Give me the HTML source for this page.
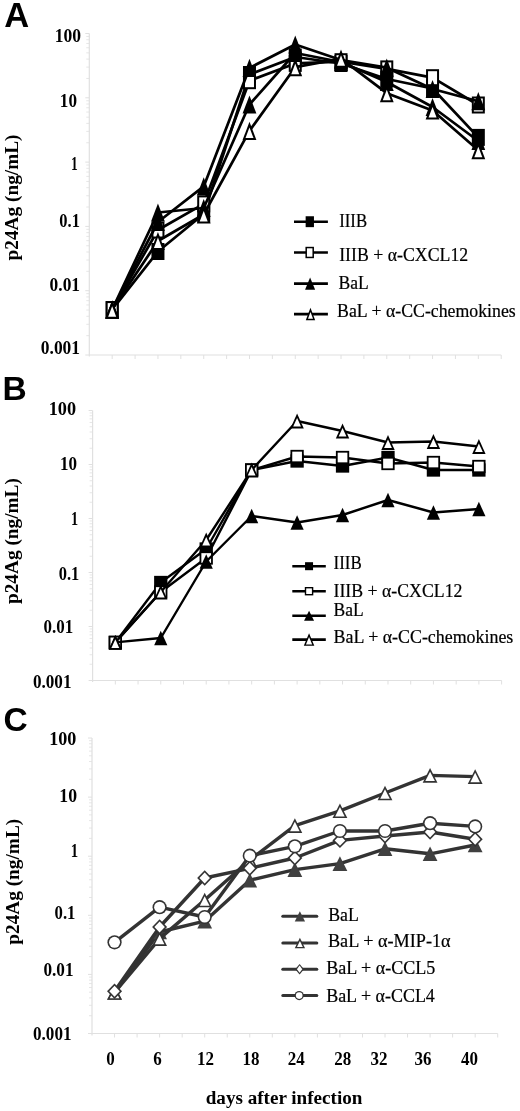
<!DOCTYPE html>
<html><head><meta charset="utf-8"><style>
html,body{margin:0;padding:0;background:#fff;}
body{width:520px;height:1111px;overflow:hidden;}
svg{display:block;filter:blur(0.35px);}
</style></head><body>
<svg width="520" height="1111" viewBox="0 0 520 1111">
<rect width="520" height="1111" fill="#fff"/>
<text transform="translate(4.14,27.10)" font-family='"Liberation Sans", sans-serif' font-size="34.5" font-weight="bold" fill="#000">A</text>
<line x1="89.3" y1="33.5" x2="89.3" y2="356.5" stroke="#e0e0e0" stroke-width="1.2"/>
<line x1="89.3" y1="355" x2="501.2" y2="355" stroke="#e0e0e0" stroke-width="1.2"/>
<line x1="85.3" y1="355.00" x2="89.3" y2="355.00" stroke="#e0e0e0" stroke-width="1"/>
<line x1="86.3" y1="335.64" x2="89.3" y2="335.64" stroke="#e0e0e0" stroke-width="0.8"/>
<line x1="86.3" y1="324.32" x2="89.3" y2="324.32" stroke="#e0e0e0" stroke-width="0.8"/>
<line x1="86.3" y1="316.29" x2="89.3" y2="316.29" stroke="#e0e0e0" stroke-width="0.8"/>
<line x1="86.3" y1="310.06" x2="89.3" y2="310.06" stroke="#e0e0e0" stroke-width="0.8"/>
<line x1="86.3" y1="304.96" x2="89.3" y2="304.96" stroke="#e0e0e0" stroke-width="0.8"/>
<line x1="86.3" y1="300.66" x2="89.3" y2="300.66" stroke="#e0e0e0" stroke-width="0.8"/>
<line x1="86.3" y1="296.93" x2="89.3" y2="296.93" stroke="#e0e0e0" stroke-width="0.8"/>
<line x1="86.3" y1="293.64" x2="89.3" y2="293.64" stroke="#e0e0e0" stroke-width="0.8"/>
<line x1="85.3" y1="290.70" x2="89.3" y2="290.70" stroke="#e0e0e0" stroke-width="1"/>
<line x1="86.3" y1="271.34" x2="89.3" y2="271.34" stroke="#e0e0e0" stroke-width="0.8"/>
<line x1="86.3" y1="260.02" x2="89.3" y2="260.02" stroke="#e0e0e0" stroke-width="0.8"/>
<line x1="86.3" y1="251.99" x2="89.3" y2="251.99" stroke="#e0e0e0" stroke-width="0.8"/>
<line x1="86.3" y1="245.76" x2="89.3" y2="245.76" stroke="#e0e0e0" stroke-width="0.8"/>
<line x1="86.3" y1="240.66" x2="89.3" y2="240.66" stroke="#e0e0e0" stroke-width="0.8"/>
<line x1="86.3" y1="236.36" x2="89.3" y2="236.36" stroke="#e0e0e0" stroke-width="0.8"/>
<line x1="86.3" y1="232.63" x2="89.3" y2="232.63" stroke="#e0e0e0" stroke-width="0.8"/>
<line x1="86.3" y1="229.34" x2="89.3" y2="229.34" stroke="#e0e0e0" stroke-width="0.8"/>
<line x1="85.3" y1="226.40" x2="89.3" y2="226.40" stroke="#e0e0e0" stroke-width="1"/>
<line x1="86.3" y1="207.04" x2="89.3" y2="207.04" stroke="#e0e0e0" stroke-width="0.8"/>
<line x1="86.3" y1="195.72" x2="89.3" y2="195.72" stroke="#e0e0e0" stroke-width="0.8"/>
<line x1="86.3" y1="187.69" x2="89.3" y2="187.69" stroke="#e0e0e0" stroke-width="0.8"/>
<line x1="86.3" y1="181.46" x2="89.3" y2="181.46" stroke="#e0e0e0" stroke-width="0.8"/>
<line x1="86.3" y1="176.36" x2="89.3" y2="176.36" stroke="#e0e0e0" stroke-width="0.8"/>
<line x1="86.3" y1="172.06" x2="89.3" y2="172.06" stroke="#e0e0e0" stroke-width="0.8"/>
<line x1="86.3" y1="168.33" x2="89.3" y2="168.33" stroke="#e0e0e0" stroke-width="0.8"/>
<line x1="86.3" y1="165.04" x2="89.3" y2="165.04" stroke="#e0e0e0" stroke-width="0.8"/>
<line x1="85.3" y1="162.10" x2="89.3" y2="162.10" stroke="#e0e0e0" stroke-width="1"/>
<line x1="86.3" y1="142.74" x2="89.3" y2="142.74" stroke="#e0e0e0" stroke-width="0.8"/>
<line x1="86.3" y1="131.42" x2="89.3" y2="131.42" stroke="#e0e0e0" stroke-width="0.8"/>
<line x1="86.3" y1="123.39" x2="89.3" y2="123.39" stroke="#e0e0e0" stroke-width="0.8"/>
<line x1="86.3" y1="117.16" x2="89.3" y2="117.16" stroke="#e0e0e0" stroke-width="0.8"/>
<line x1="86.3" y1="112.06" x2="89.3" y2="112.06" stroke="#e0e0e0" stroke-width="0.8"/>
<line x1="86.3" y1="107.76" x2="89.3" y2="107.76" stroke="#e0e0e0" stroke-width="0.8"/>
<line x1="86.3" y1="104.03" x2="89.3" y2="104.03" stroke="#e0e0e0" stroke-width="0.8"/>
<line x1="86.3" y1="100.74" x2="89.3" y2="100.74" stroke="#e0e0e0" stroke-width="0.8"/>
<line x1="85.3" y1="97.80" x2="89.3" y2="97.80" stroke="#e0e0e0" stroke-width="1"/>
<line x1="86.3" y1="78.44" x2="89.3" y2="78.44" stroke="#e0e0e0" stroke-width="0.8"/>
<line x1="86.3" y1="67.12" x2="89.3" y2="67.12" stroke="#e0e0e0" stroke-width="0.8"/>
<line x1="86.3" y1="59.09" x2="89.3" y2="59.09" stroke="#e0e0e0" stroke-width="0.8"/>
<line x1="86.3" y1="52.86" x2="89.3" y2="52.86" stroke="#e0e0e0" stroke-width="0.8"/>
<line x1="86.3" y1="47.76" x2="89.3" y2="47.76" stroke="#e0e0e0" stroke-width="0.8"/>
<line x1="86.3" y1="43.46" x2="89.3" y2="43.46" stroke="#e0e0e0" stroke-width="0.8"/>
<line x1="86.3" y1="39.73" x2="89.3" y2="39.73" stroke="#e0e0e0" stroke-width="0.8"/>
<line x1="86.3" y1="36.44" x2="89.3" y2="36.44" stroke="#e0e0e0" stroke-width="0.8"/>
<line x1="85.3" y1="33.5" x2="89.3" y2="33.5" stroke="#e0e0e0" stroke-width="1"/>
<line x1="112.18" y1="355" x2="112.18" y2="359" stroke="#e0e0e0" stroke-width="1"/>
<line x1="135.07" y1="355" x2="135.07" y2="359" stroke="#e0e0e0" stroke-width="1"/>
<line x1="157.95" y1="355" x2="157.95" y2="359" stroke="#e0e0e0" stroke-width="1"/>
<line x1="180.83" y1="355" x2="180.83" y2="359" stroke="#e0e0e0" stroke-width="1"/>
<line x1="203.72" y1="355" x2="203.72" y2="359" stroke="#e0e0e0" stroke-width="1"/>
<line x1="226.60" y1="355" x2="226.60" y2="359" stroke="#e0e0e0" stroke-width="1"/>
<line x1="249.48" y1="355" x2="249.48" y2="359" stroke="#e0e0e0" stroke-width="1"/>
<line x1="272.37" y1="355" x2="272.37" y2="359" stroke="#e0e0e0" stroke-width="1"/>
<line x1="295.25" y1="355" x2="295.25" y2="359" stroke="#e0e0e0" stroke-width="1"/>
<line x1="318.13" y1="355" x2="318.13" y2="359" stroke="#e0e0e0" stroke-width="1"/>
<line x1="341.02" y1="355" x2="341.02" y2="359" stroke="#e0e0e0" stroke-width="1"/>
<line x1="363.90" y1="355" x2="363.90" y2="359" stroke="#e0e0e0" stroke-width="1"/>
<line x1="386.78" y1="355" x2="386.78" y2="359" stroke="#e0e0e0" stroke-width="1"/>
<line x1="409.67" y1="355" x2="409.67" y2="359" stroke="#e0e0e0" stroke-width="1"/>
<line x1="432.55" y1="355" x2="432.55" y2="359" stroke="#e0e0e0" stroke-width="1"/>
<line x1="455.43" y1="355" x2="455.43" y2="359" stroke="#e0e0e0" stroke-width="1"/>
<line x1="478.32" y1="355" x2="478.32" y2="359" stroke="#e0e0e0" stroke-width="1"/>
<line x1="501.20" y1="355" x2="501.20" y2="359" stroke="#e0e0e0" stroke-width="1"/>
<text transform="translate(54.80,42.40) scale(0.9964,1.0700)" font-family='"Liberation Serif", serif' font-size="17.6" font-weight="bold" fill="#000">100</text>
<text transform="translate(59.83,106.60) scale(0.9749,1.0700)" font-family='"Liberation Serif", serif' font-size="17.6" font-weight="bold" fill="#000">10</text>
<text transform="translate(71.12,170.10) scale(0.7678,1.0700)" font-family='"Liberation Serif", serif' font-size="17.6" font-weight="bold" fill="#000">1</text>
<text transform="translate(59.34,227.10) scale(0.9355,1.0700)" font-family='"Liberation Serif", serif' font-size="17.6" font-weight="bold" fill="#000">0.1</text>
<text transform="translate(49.60,291.30) scale(0.9892,1.0700)" font-family='"Liberation Serif", serif' font-size="17.6" font-weight="bold" fill="#000">0.01</text>
<text transform="translate(40.80,353.70) scale(0.9917,1.0700)" font-family='"Liberation Serif", serif' font-size="17.6" font-weight="bold" fill="#000">0.001</text>
<text transform="translate(17.90,260.39) rotate(-90)" font-family='"Liberation Serif", serif' font-size="19.3" font-weight="bold">p24Ag (ng/mL)</text>
<polyline points="112.18,309.60 157.95,251.50 203.72,214.00 249.48,74.50 295.25,57.00 341.02,63.50 386.78,79.00 432.55,88.50 478.32,137.40" fill="none" stroke="#000" stroke-width="2.7" stroke-linejoin="round"/>
<rect x="105.68" y="301.10" width="13" height="17" fill="#000"/>
<rect x="151.45" y="243.00" width="13" height="17" fill="#000"/>
<rect x="197.22" y="205.50" width="13" height="17" fill="#000"/>
<rect x="242.98" y="66.00" width="13" height="17" fill="#000"/>
<rect x="288.75" y="48.50" width="13" height="17" fill="#000"/>
<rect x="334.52" y="55.00" width="13" height="17" fill="#000"/>
<rect x="380.28" y="70.50" width="13" height="17" fill="#000"/>
<rect x="426.05" y="80.00" width="13" height="17" fill="#000"/>
<rect x="471.82" y="128.90" width="13" height="17" fill="#000"/>
<polyline points="112.18,309.60 157.95,230.00 203.72,203.90 249.48,80.70 295.25,63.40 341.02,61.70 386.78,68.90 432.55,77.70 478.32,105.00" fill="none" stroke="#000" stroke-width="2.7" stroke-linejoin="round"/>
<rect x="105.68" y="301.10" width="13" height="17" fill="#000"/>
<rect x="107.68" y="303.10" width="9.00" height="13.00" fill="#fff"/>
<rect x="151.45" y="221.50" width="13" height="17" fill="#000"/>
<rect x="153.45" y="223.50" width="9.00" height="13.00" fill="#fff"/>
<rect x="197.22" y="195.40" width="13" height="17" fill="#000"/>
<rect x="199.22" y="197.40" width="9.00" height="13.00" fill="#fff"/>
<rect x="242.98" y="72.20" width="13" height="17" fill="#000"/>
<rect x="244.98" y="74.20" width="9.00" height="13.00" fill="#fff"/>
<rect x="288.75" y="54.90" width="13" height="17" fill="#000"/>
<rect x="290.75" y="56.90" width="9.00" height="13.00" fill="#fff"/>
<rect x="334.52" y="53.20" width="13" height="17" fill="#000"/>
<rect x="336.52" y="55.20" width="9.00" height="13.00" fill="#fff"/>
<rect x="380.28" y="60.40" width="13" height="17" fill="#000"/>
<rect x="382.28" y="62.40" width="9.00" height="13.00" fill="#fff"/>
<rect x="426.05" y="69.20" width="13" height="17" fill="#000"/>
<rect x="428.05" y="71.20" width="9.00" height="13.00" fill="#fff"/>
<rect x="471.82" y="96.50" width="13" height="17" fill="#000"/>
<rect x="473.82" y="98.50" width="9.00" height="13.00" fill="#fff"/>
<polyline points="112.18,309.60 157.95,212.50 203.72,208.00 249.48,104.50 295.25,53.00 341.02,62.00 386.78,82.00 432.55,107.00 478.32,141.00" fill="none" stroke="#000" stroke-width="2.7" stroke-linejoin="round"/>
<polygon points="112.18,300.50 119.08,318.70 105.28,318.70" fill="#000"/>
<polygon points="157.95,203.40 164.85,221.60 151.05,221.60" fill="#000"/>
<polygon points="203.72,198.90 210.62,217.10 196.82,217.10" fill="#000"/>
<polygon points="249.48,95.40 256.38,113.60 242.58,113.60" fill="#000"/>
<polygon points="295.25,43.90 302.15,62.10 288.35,62.10" fill="#000"/>
<polygon points="341.02,52.90 347.92,71.10 334.12,71.10" fill="#000"/>
<polygon points="386.78,72.90 393.68,91.10 379.88,91.10" fill="#000"/>
<polygon points="432.55,97.90 439.45,116.10 425.65,116.10" fill="#000"/>
<polygon points="478.32,131.90 485.22,150.10 471.42,150.10" fill="#000"/>
<polyline points="112.18,309.60 157.95,222.00 203.72,186.40 249.48,67.90 295.25,44.50 341.02,60.00 386.78,67.70 432.55,89.00 478.32,101.20" fill="none" stroke="#000" stroke-width="2.7" stroke-linejoin="round"/>
<polygon points="112.18,300.50 119.08,318.70 105.28,318.70" fill="#000"/>
<polygon points="157.95,212.90 164.85,231.10 151.05,231.10" fill="#000"/>
<polygon points="203.72,177.30 210.62,195.50 196.82,195.50" fill="#000"/>
<polygon points="249.48,58.80 256.38,77.00 242.58,77.00" fill="#000"/>
<polygon points="295.25,35.40 302.15,53.60 288.35,53.60" fill="#000"/>
<polygon points="341.02,50.90 347.92,69.10 334.12,69.10" fill="#000"/>
<polygon points="386.78,58.60 393.68,76.80 379.88,76.80" fill="#000"/>
<polygon points="432.55,79.90 439.45,98.10 425.65,98.10" fill="#000"/>
<polygon points="478.32,92.10 485.22,110.30 471.42,110.30" fill="#000"/>
<polyline points="112.18,309.60 157.95,241.00 203.72,214.50 249.48,130.90 295.25,67.20 341.02,58.60 386.78,93.20 432.55,110.50 478.32,150.20" fill="none" stroke="#000" stroke-width="2.7" stroke-linejoin="round"/>
<polygon points="112.18,300.50 119.08,318.70 105.28,318.70" fill="#000"/>
<polygon points="112.18,306.14 116.19,316.70 108.18,316.70" fill="#fff"/>
<polygon points="157.95,231.90 164.85,250.10 151.05,250.10" fill="#000"/>
<polygon points="157.95,237.54 161.95,248.10 153.95,248.10" fill="#fff"/>
<polygon points="203.72,205.40 210.62,223.60 196.82,223.60" fill="#000"/>
<polygon points="203.72,211.04 207.72,221.60 199.71,221.60" fill="#fff"/>
<polygon points="249.48,121.80 256.38,140.00 242.58,140.00" fill="#000"/>
<polygon points="249.48,127.44 253.49,138.00 245.48,138.00" fill="#fff"/>
<polygon points="295.25,58.10 302.15,76.30 288.35,76.30" fill="#000"/>
<polygon points="295.25,63.74 299.25,74.30 291.25,74.30" fill="#fff"/>
<polygon points="341.02,49.50 347.92,67.70 334.12,67.70" fill="#000"/>
<polygon points="341.02,55.14 345.02,65.70 337.01,65.70" fill="#fff"/>
<polygon points="386.78,84.10 393.68,102.30 379.88,102.30" fill="#000"/>
<polygon points="386.78,89.74 390.79,100.30 382.78,100.30" fill="#fff"/>
<polygon points="432.55,101.40 439.45,119.60 425.65,119.60" fill="#000"/>
<polygon points="432.55,107.04 436.55,117.60 428.55,117.60" fill="#fff"/>
<polygon points="478.32,141.10 485.22,159.30 471.42,159.30" fill="#000"/>
<polygon points="478.32,146.74 482.32,157.30 474.31,157.30" fill="#fff"/>
<line x1="294" y1="221.7" x2="327.9" y2="221.7" stroke="#000" stroke-width="2.6" stroke-linecap="butt"/>
<rect x="305.65" y="216.25" width="8.3" height="10.9" fill="#000"/>
<line x1="294" y1="252.5" x2="327.9" y2="252.5" stroke="#000" stroke-width="2.6" stroke-linecap="butt"/>
<rect x="305.45" y="246.80" width="8.5" height="11.4" fill="#000"/>
<rect x="306.95" y="248.30" width="5.50" height="8.40" fill="#fff"/>
<line x1="294" y1="283.6" x2="327.9" y2="283.6" stroke="#000" stroke-width="2.6" stroke-linecap="butt"/>
<polygon points="310.10,277.40 315.15,289.80 305.05,289.80" fill="#000"/>
<line x1="294" y1="314.1" x2="327.9" y2="314.1" stroke="#000" stroke-width="2.6" stroke-linecap="butt"/>
<polygon points="310.50,307.85 315.20,320.35 305.80,320.35" fill="#000"/>
<polygon points="310.50,312.11 313.03,318.85 307.97,318.85" fill="#fff"/>
<text transform="translate(339.21,227.10) scale(0.9664,1.0500)" font-family='"Liberation Serif", serif' font-size="17.3" font-weight="normal" fill="#000" stroke="#000" stroke-width="0.2">IIIB</text>
<text transform="translate(339.18,260.60) scale(1.0286,1.0500)" font-family='"Liberation Serif", serif' font-size="17.3" font-weight="normal" fill="#000" stroke="#000" stroke-width="0.2">IIIB + α-CXCL12</text>
<text transform="translate(338.57,288.90) scale(1.0142,1.0500)" font-family='"Liberation Serif", serif' font-size="17.3" font-weight="normal" fill="#000" stroke="#000" stroke-width="0.2">BaL</text>
<text transform="translate(337.07,317.10) scale(1.0281,1.0500)" font-family='"Liberation Serif", serif' font-size="17.3" font-weight="normal" fill="#000" stroke="#000" stroke-width="0.2">BaL + α-CC-chemokines</text>
<text transform="translate(2.42,399.60)" font-family='"Liberation Sans", sans-serif' font-size="33.5" font-weight="bold" fill="#000">B</text>
<line x1="92.6" y1="410.5" x2="92.6" y2="682.0" stroke="#e0e0e0" stroke-width="1.2"/>
<line x1="92.6" y1="680.5" x2="501.6" y2="680.5" stroke="#e0e0e0" stroke-width="1.2"/>
<line x1="88.6" y1="680.50" x2="92.6" y2="680.50" stroke="#e0e0e0" stroke-width="1"/>
<line x1="89.6" y1="664.24" x2="92.6" y2="664.24" stroke="#e0e0e0" stroke-width="0.8"/>
<line x1="89.6" y1="654.74" x2="92.6" y2="654.74" stroke="#e0e0e0" stroke-width="0.8"/>
<line x1="89.6" y1="647.99" x2="92.6" y2="647.99" stroke="#e0e0e0" stroke-width="0.8"/>
<line x1="89.6" y1="642.76" x2="92.6" y2="642.76" stroke="#e0e0e0" stroke-width="0.8"/>
<line x1="89.6" y1="638.48" x2="92.6" y2="638.48" stroke="#e0e0e0" stroke-width="0.8"/>
<line x1="89.6" y1="634.86" x2="92.6" y2="634.86" stroke="#e0e0e0" stroke-width="0.8"/>
<line x1="89.6" y1="631.73" x2="92.6" y2="631.73" stroke="#e0e0e0" stroke-width="0.8"/>
<line x1="89.6" y1="628.97" x2="92.6" y2="628.97" stroke="#e0e0e0" stroke-width="0.8"/>
<line x1="88.6" y1="626.50" x2="92.6" y2="626.50" stroke="#e0e0e0" stroke-width="1"/>
<line x1="89.6" y1="610.24" x2="92.6" y2="610.24" stroke="#e0e0e0" stroke-width="0.8"/>
<line x1="89.6" y1="600.74" x2="92.6" y2="600.74" stroke="#e0e0e0" stroke-width="0.8"/>
<line x1="89.6" y1="593.99" x2="92.6" y2="593.99" stroke="#e0e0e0" stroke-width="0.8"/>
<line x1="89.6" y1="588.76" x2="92.6" y2="588.76" stroke="#e0e0e0" stroke-width="0.8"/>
<line x1="89.6" y1="584.48" x2="92.6" y2="584.48" stroke="#e0e0e0" stroke-width="0.8"/>
<line x1="89.6" y1="580.86" x2="92.6" y2="580.86" stroke="#e0e0e0" stroke-width="0.8"/>
<line x1="89.6" y1="577.73" x2="92.6" y2="577.73" stroke="#e0e0e0" stroke-width="0.8"/>
<line x1="89.6" y1="574.97" x2="92.6" y2="574.97" stroke="#e0e0e0" stroke-width="0.8"/>
<line x1="88.6" y1="572.50" x2="92.6" y2="572.50" stroke="#e0e0e0" stroke-width="1"/>
<line x1="89.6" y1="556.24" x2="92.6" y2="556.24" stroke="#e0e0e0" stroke-width="0.8"/>
<line x1="89.6" y1="546.74" x2="92.6" y2="546.74" stroke="#e0e0e0" stroke-width="0.8"/>
<line x1="89.6" y1="539.99" x2="92.6" y2="539.99" stroke="#e0e0e0" stroke-width="0.8"/>
<line x1="89.6" y1="534.76" x2="92.6" y2="534.76" stroke="#e0e0e0" stroke-width="0.8"/>
<line x1="89.6" y1="530.48" x2="92.6" y2="530.48" stroke="#e0e0e0" stroke-width="0.8"/>
<line x1="89.6" y1="526.86" x2="92.6" y2="526.86" stroke="#e0e0e0" stroke-width="0.8"/>
<line x1="89.6" y1="523.73" x2="92.6" y2="523.73" stroke="#e0e0e0" stroke-width="0.8"/>
<line x1="89.6" y1="520.97" x2="92.6" y2="520.97" stroke="#e0e0e0" stroke-width="0.8"/>
<line x1="88.6" y1="518.50" x2="92.6" y2="518.50" stroke="#e0e0e0" stroke-width="1"/>
<line x1="89.6" y1="502.24" x2="92.6" y2="502.24" stroke="#e0e0e0" stroke-width="0.8"/>
<line x1="89.6" y1="492.74" x2="92.6" y2="492.74" stroke="#e0e0e0" stroke-width="0.8"/>
<line x1="89.6" y1="485.99" x2="92.6" y2="485.99" stroke="#e0e0e0" stroke-width="0.8"/>
<line x1="89.6" y1="480.76" x2="92.6" y2="480.76" stroke="#e0e0e0" stroke-width="0.8"/>
<line x1="89.6" y1="476.48" x2="92.6" y2="476.48" stroke="#e0e0e0" stroke-width="0.8"/>
<line x1="89.6" y1="472.86" x2="92.6" y2="472.86" stroke="#e0e0e0" stroke-width="0.8"/>
<line x1="89.6" y1="469.73" x2="92.6" y2="469.73" stroke="#e0e0e0" stroke-width="0.8"/>
<line x1="89.6" y1="466.97" x2="92.6" y2="466.97" stroke="#e0e0e0" stroke-width="0.8"/>
<line x1="88.6" y1="464.50" x2="92.6" y2="464.50" stroke="#e0e0e0" stroke-width="1"/>
<line x1="89.6" y1="448.24" x2="92.6" y2="448.24" stroke="#e0e0e0" stroke-width="0.8"/>
<line x1="89.6" y1="438.74" x2="92.6" y2="438.74" stroke="#e0e0e0" stroke-width="0.8"/>
<line x1="89.6" y1="431.99" x2="92.6" y2="431.99" stroke="#e0e0e0" stroke-width="0.8"/>
<line x1="89.6" y1="426.76" x2="92.6" y2="426.76" stroke="#e0e0e0" stroke-width="0.8"/>
<line x1="89.6" y1="422.48" x2="92.6" y2="422.48" stroke="#e0e0e0" stroke-width="0.8"/>
<line x1="89.6" y1="418.86" x2="92.6" y2="418.86" stroke="#e0e0e0" stroke-width="0.8"/>
<line x1="89.6" y1="415.73" x2="92.6" y2="415.73" stroke="#e0e0e0" stroke-width="0.8"/>
<line x1="89.6" y1="412.97" x2="92.6" y2="412.97" stroke="#e0e0e0" stroke-width="0.8"/>
<line x1="88.6" y1="410.5" x2="92.6" y2="410.5" stroke="#e0e0e0" stroke-width="1"/>
<line x1="115.32" y1="680.5" x2="115.32" y2="684.5" stroke="#e0e0e0" stroke-width="1"/>
<line x1="138.04" y1="680.5" x2="138.04" y2="684.5" stroke="#e0e0e0" stroke-width="1"/>
<line x1="160.77" y1="680.5" x2="160.77" y2="684.5" stroke="#e0e0e0" stroke-width="1"/>
<line x1="183.49" y1="680.5" x2="183.49" y2="684.5" stroke="#e0e0e0" stroke-width="1"/>
<line x1="206.21" y1="680.5" x2="206.21" y2="684.5" stroke="#e0e0e0" stroke-width="1"/>
<line x1="228.93" y1="680.5" x2="228.93" y2="684.5" stroke="#e0e0e0" stroke-width="1"/>
<line x1="251.66" y1="680.5" x2="251.66" y2="684.5" stroke="#e0e0e0" stroke-width="1"/>
<line x1="274.38" y1="680.5" x2="274.38" y2="684.5" stroke="#e0e0e0" stroke-width="1"/>
<line x1="297.10" y1="680.5" x2="297.10" y2="684.5" stroke="#e0e0e0" stroke-width="1"/>
<line x1="319.82" y1="680.5" x2="319.82" y2="684.5" stroke="#e0e0e0" stroke-width="1"/>
<line x1="342.54" y1="680.5" x2="342.54" y2="684.5" stroke="#e0e0e0" stroke-width="1"/>
<line x1="365.27" y1="680.5" x2="365.27" y2="684.5" stroke="#e0e0e0" stroke-width="1"/>
<line x1="387.99" y1="680.5" x2="387.99" y2="684.5" stroke="#e0e0e0" stroke-width="1"/>
<line x1="410.71" y1="680.5" x2="410.71" y2="684.5" stroke="#e0e0e0" stroke-width="1"/>
<line x1="433.43" y1="680.5" x2="433.43" y2="684.5" stroke="#e0e0e0" stroke-width="1"/>
<line x1="456.16" y1="680.5" x2="456.16" y2="684.5" stroke="#e0e0e0" stroke-width="1"/>
<line x1="478.88" y1="680.5" x2="478.88" y2="684.5" stroke="#e0e0e0" stroke-width="1"/>
<line x1="501.60" y1="680.5" x2="501.60" y2="684.5" stroke="#e0e0e0" stroke-width="1"/>
<text transform="translate(48.64,415.30) scale(1.0375,1.0700)" font-family='"Liberation Serif", serif' font-size="17.6" font-weight="bold" fill="#000">100</text>
<text transform="translate(59.94,470.40) scale(0.9685,1.0700)" font-family='"Liberation Serif", serif' font-size="17.6" font-weight="bold" fill="#000">10</text>
<text transform="translate(70.95,525.10) scale(0.8139,1.0700)" font-family='"Liberation Serif", serif' font-size="17.6" font-weight="bold" fill="#000">1</text>
<text transform="translate(58.74,579.60) scale(0.9355,1.0700)" font-family='"Liberation Serif", serif' font-size="17.6" font-weight="bold" fill="#000">0.1</text>
<text transform="translate(43.62,633.00) scale(0.9652,1.0700)" font-family='"Liberation Serif", serif' font-size="17.6" font-weight="bold" fill="#000">0.01</text>
<text transform="translate(32.91,687.50) scale(0.9733,1.0700)" font-family='"Liberation Serif", serif' font-size="17.6" font-weight="bold" fill="#000">0.001</text>
<text transform="translate(18.00,603.99) rotate(-90)" font-family='"Liberation Serif", serif' font-size="19.3" font-weight="bold">p24Ag (ng/mL)</text>
<polyline points="115.32,642.40 160.77,582.50 206.21,549.00 251.66,470.00 297.10,461.00 342.54,466.00 387.99,457.50 433.43,470.00 478.88,470.00" fill="none" stroke="#000" stroke-width="2.4" stroke-linejoin="round"/>
<rect x="108.67" y="635.75" width="13.3" height="13.3" fill="#000"/>
<rect x="154.12" y="575.85" width="13.3" height="13.3" fill="#000"/>
<rect x="199.56" y="542.35" width="13.3" height="13.3" fill="#000"/>
<rect x="245.01" y="463.35" width="13.3" height="13.3" fill="#000"/>
<rect x="290.45" y="454.35" width="13.3" height="13.3" fill="#000"/>
<rect x="335.89" y="459.35" width="13.3" height="13.3" fill="#000"/>
<rect x="381.34" y="450.85" width="13.3" height="13.3" fill="#000"/>
<rect x="426.78" y="463.35" width="13.3" height="13.3" fill="#000"/>
<rect x="472.23" y="463.35" width="13.3" height="13.3" fill="#000"/>
<polyline points="115.32,642.40 160.77,592.00 206.21,558.00 251.66,470.00 297.10,456.50 342.54,457.50 387.99,463.50 433.43,462.50 478.88,466.50" fill="none" stroke="#000" stroke-width="2.4" stroke-linejoin="round"/>
<rect x="108.67" y="635.75" width="13.3" height="13.3" fill="#000"/>
<rect x="110.47" y="637.55" width="9.70" height="9.70" fill="#fff"/>
<rect x="154.12" y="585.35" width="13.3" height="13.3" fill="#000"/>
<rect x="155.92" y="587.15" width="9.70" height="9.70" fill="#fff"/>
<rect x="199.56" y="551.35" width="13.3" height="13.3" fill="#000"/>
<rect x="201.36" y="553.15" width="9.70" height="9.70" fill="#fff"/>
<rect x="245.01" y="463.35" width="13.3" height="13.3" fill="#000"/>
<rect x="246.81" y="465.15" width="9.70" height="9.70" fill="#fff"/>
<rect x="290.45" y="449.85" width="13.3" height="13.3" fill="#000"/>
<rect x="292.25" y="451.65" width="9.70" height="9.70" fill="#fff"/>
<rect x="335.89" y="450.85" width="13.3" height="13.3" fill="#000"/>
<rect x="337.69" y="452.65" width="9.70" height="9.70" fill="#fff"/>
<rect x="381.34" y="456.85" width="13.3" height="13.3" fill="#000"/>
<rect x="383.14" y="458.65" width="9.70" height="9.70" fill="#fff"/>
<rect x="426.78" y="455.85" width="13.3" height="13.3" fill="#000"/>
<rect x="428.58" y="457.65" width="9.70" height="9.70" fill="#fff"/>
<rect x="472.23" y="459.85" width="13.3" height="13.3" fill="#000"/>
<rect x="474.03" y="461.65" width="9.70" height="9.70" fill="#fff"/>
<polyline points="115.32,642.40 160.77,638.00 206.21,561.50 251.66,516.00 297.10,522.50 342.54,515.00 387.99,500.00 433.43,512.50 478.88,509.00" fill="none" stroke="#000" stroke-width="2.4" stroke-linejoin="round"/>
<polygon points="115.32,635.10 121.92,649.70 108.72,649.70" fill="#000"/>
<polygon points="160.77,630.70 167.37,645.30 154.17,645.30" fill="#000"/>
<polygon points="206.21,554.20 212.81,568.80 199.61,568.80" fill="#000"/>
<polygon points="251.66,508.70 258.26,523.30 245.06,523.30" fill="#000"/>
<polygon points="297.10,515.20 303.70,529.80 290.50,529.80" fill="#000"/>
<polygon points="342.54,507.70 349.14,522.30 335.94,522.30" fill="#000"/>
<polygon points="387.99,492.70 394.59,507.30 381.39,507.30" fill="#000"/>
<polygon points="433.43,505.20 440.03,519.80 426.83,519.80" fill="#000"/>
<polygon points="478.88,501.70 485.48,516.30 472.28,516.30" fill="#000"/>
<polyline points="115.32,642.40 160.77,592.00 206.21,540.00 251.66,470.00 297.10,421.00 342.54,431.00 387.99,442.50 433.43,441.50 478.88,446.50" fill="none" stroke="#000" stroke-width="2.4" stroke-linejoin="round"/>
<polygon points="115.32,635.00 122.02,649.80 108.62,649.80" fill="#000"/>
<polygon points="115.32,639.36 119.23,648.00 111.41,648.00" fill="#fff"/>
<polygon points="160.77,584.60 167.47,599.40 154.07,599.40" fill="#000"/>
<polygon points="160.77,588.96 164.68,597.60 156.86,597.60" fill="#fff"/>
<polygon points="206.21,532.60 212.91,547.40 199.51,547.40" fill="#000"/>
<polygon points="206.21,536.96 210.12,545.60 202.30,545.60" fill="#fff"/>
<polygon points="251.66,462.60 258.36,477.40 244.96,477.40" fill="#000"/>
<polygon points="251.66,466.96 255.56,475.60 247.75,475.60" fill="#fff"/>
<polygon points="297.10,413.60 303.80,428.40 290.40,428.40" fill="#000"/>
<polygon points="297.10,417.96 301.01,426.60 293.19,426.60" fill="#fff"/>
<polygon points="342.54,423.60 349.24,438.40 335.84,438.40" fill="#000"/>
<polygon points="342.54,427.96 346.45,436.60 338.64,436.60" fill="#fff"/>
<polygon points="387.99,435.10 394.69,449.90 381.29,449.90" fill="#000"/>
<polygon points="387.99,439.46 391.90,448.10 384.08,448.10" fill="#fff"/>
<polygon points="433.43,434.10 440.13,448.90 426.73,448.90" fill="#000"/>
<polygon points="433.43,438.46 437.34,447.10 429.52,447.10" fill="#fff"/>
<polygon points="478.88,439.10 485.58,453.90 472.18,453.90" fill="#000"/>
<polygon points="478.88,443.46 482.79,452.10 474.97,452.10" fill="#fff"/>
<line x1="292.3" y1="566.2" x2="325.8" y2="566.2" stroke="#000" stroke-width="2.6" stroke-linecap="butt"/>
<rect x="305.05" y="562.20" width="8" height="8" fill="#000"/>
<line x1="292.3" y1="591.2" x2="325.8" y2="591.2" stroke="#000" stroke-width="2.6" stroke-linecap="butt"/>
<rect x="304.80" y="587.00" width="8.5" height="8.4" fill="#000"/>
<rect x="306.20" y="588.40" width="5.70" height="5.60" fill="#fff"/>
<line x1="292.3" y1="615.8" x2="325.8" y2="615.8" stroke="#000" stroke-width="2.6" stroke-linecap="butt"/>
<polygon points="309.05,610.80 314.05,620.80 304.05,620.80" fill="#000"/>
<line x1="292.3" y1="639.6" x2="325.8" y2="639.6" stroke="#000" stroke-width="2.6" stroke-linecap="butt"/>
<polygon points="309.05,633.35 314.30,645.85 303.80,645.85" fill="#000"/>
<polygon points="309.05,636.97 312.19,644.45 305.91,644.45" fill="#fff"/>
<text transform="translate(333.51,568.90) scale(0.9774,1.0500)" font-family='"Liberation Serif", serif' font-size="17.3" font-weight="normal" fill="#000" stroke="#000" stroke-width="0.2">IIIB</text>
<text transform="translate(333.48,596.60) scale(1.0278,1.0500)" font-family='"Liberation Serif", serif' font-size="17.3" font-weight="normal" fill="#000" stroke="#000" stroke-width="0.2">IIIB + α-CXCL12</text>
<text transform="translate(333.58,616.20) scale(1.0107,1.0500)" font-family='"Liberation Serif", serif' font-size="17.3" font-weight="normal" fill="#000" stroke="#000" stroke-width="0.2">BaL</text>
<text transform="translate(333.56,642.70) scale(1.0351,1.0500)" font-family='"Liberation Serif", serif' font-size="17.3" font-weight="normal" fill="#000" stroke="#000" stroke-width="0.2">BaL + α-CC-chemokines</text>
<text transform="translate(3.56,731.30)" font-family='"Liberation Sans", sans-serif' font-size="33.5" font-weight="bold" fill="#000">C</text>
<line x1="92" y1="738" x2="92" y2="1035.5" stroke="#e0e0e0" stroke-width="1.2"/>
<line x1="92" y1="1033.5" x2="497.7" y2="1033.5" stroke="#e0e0e0" stroke-width="1.2"/>
<line x1="88" y1="1033.50" x2="92" y2="1033.50" stroke="#e0e0e0" stroke-width="1"/>
<line x1="89" y1="1015.71" x2="92" y2="1015.71" stroke="#e0e0e0" stroke-width="0.8"/>
<line x1="89" y1="1005.30" x2="92" y2="1005.30" stroke="#e0e0e0" stroke-width="0.8"/>
<line x1="89" y1="997.92" x2="92" y2="997.92" stroke="#e0e0e0" stroke-width="0.8"/>
<line x1="89" y1="992.19" x2="92" y2="992.19" stroke="#e0e0e0" stroke-width="0.8"/>
<line x1="89" y1="987.51" x2="92" y2="987.51" stroke="#e0e0e0" stroke-width="0.8"/>
<line x1="89" y1="983.55" x2="92" y2="983.55" stroke="#e0e0e0" stroke-width="0.8"/>
<line x1="89" y1="980.13" x2="92" y2="980.13" stroke="#e0e0e0" stroke-width="0.8"/>
<line x1="89" y1="977.10" x2="92" y2="977.10" stroke="#e0e0e0" stroke-width="0.8"/>
<line x1="88" y1="974.40" x2="92" y2="974.40" stroke="#e0e0e0" stroke-width="1"/>
<line x1="89" y1="956.61" x2="92" y2="956.61" stroke="#e0e0e0" stroke-width="0.8"/>
<line x1="89" y1="946.20" x2="92" y2="946.20" stroke="#e0e0e0" stroke-width="0.8"/>
<line x1="89" y1="938.82" x2="92" y2="938.82" stroke="#e0e0e0" stroke-width="0.8"/>
<line x1="89" y1="933.09" x2="92" y2="933.09" stroke="#e0e0e0" stroke-width="0.8"/>
<line x1="89" y1="928.41" x2="92" y2="928.41" stroke="#e0e0e0" stroke-width="0.8"/>
<line x1="89" y1="924.45" x2="92" y2="924.45" stroke="#e0e0e0" stroke-width="0.8"/>
<line x1="89" y1="921.03" x2="92" y2="921.03" stroke="#e0e0e0" stroke-width="0.8"/>
<line x1="89" y1="918.00" x2="92" y2="918.00" stroke="#e0e0e0" stroke-width="0.8"/>
<line x1="88" y1="915.30" x2="92" y2="915.30" stroke="#e0e0e0" stroke-width="1"/>
<line x1="89" y1="897.51" x2="92" y2="897.51" stroke="#e0e0e0" stroke-width="0.8"/>
<line x1="89" y1="887.10" x2="92" y2="887.10" stroke="#e0e0e0" stroke-width="0.8"/>
<line x1="89" y1="879.72" x2="92" y2="879.72" stroke="#e0e0e0" stroke-width="0.8"/>
<line x1="89" y1="873.99" x2="92" y2="873.99" stroke="#e0e0e0" stroke-width="0.8"/>
<line x1="89" y1="869.31" x2="92" y2="869.31" stroke="#e0e0e0" stroke-width="0.8"/>
<line x1="89" y1="865.35" x2="92" y2="865.35" stroke="#e0e0e0" stroke-width="0.8"/>
<line x1="89" y1="861.93" x2="92" y2="861.93" stroke="#e0e0e0" stroke-width="0.8"/>
<line x1="89" y1="858.90" x2="92" y2="858.90" stroke="#e0e0e0" stroke-width="0.8"/>
<line x1="88" y1="856.20" x2="92" y2="856.20" stroke="#e0e0e0" stroke-width="1"/>
<line x1="89" y1="838.41" x2="92" y2="838.41" stroke="#e0e0e0" stroke-width="0.8"/>
<line x1="89" y1="828.00" x2="92" y2="828.00" stroke="#e0e0e0" stroke-width="0.8"/>
<line x1="89" y1="820.62" x2="92" y2="820.62" stroke="#e0e0e0" stroke-width="0.8"/>
<line x1="89" y1="814.89" x2="92" y2="814.89" stroke="#e0e0e0" stroke-width="0.8"/>
<line x1="89" y1="810.21" x2="92" y2="810.21" stroke="#e0e0e0" stroke-width="0.8"/>
<line x1="89" y1="806.25" x2="92" y2="806.25" stroke="#e0e0e0" stroke-width="0.8"/>
<line x1="89" y1="802.83" x2="92" y2="802.83" stroke="#e0e0e0" stroke-width="0.8"/>
<line x1="89" y1="799.80" x2="92" y2="799.80" stroke="#e0e0e0" stroke-width="0.8"/>
<line x1="88" y1="797.10" x2="92" y2="797.10" stroke="#e0e0e0" stroke-width="1"/>
<line x1="89" y1="779.31" x2="92" y2="779.31" stroke="#e0e0e0" stroke-width="0.8"/>
<line x1="89" y1="768.90" x2="92" y2="768.90" stroke="#e0e0e0" stroke-width="0.8"/>
<line x1="89" y1="761.52" x2="92" y2="761.52" stroke="#e0e0e0" stroke-width="0.8"/>
<line x1="89" y1="755.79" x2="92" y2="755.79" stroke="#e0e0e0" stroke-width="0.8"/>
<line x1="89" y1="751.11" x2="92" y2="751.11" stroke="#e0e0e0" stroke-width="0.8"/>
<line x1="89" y1="747.15" x2="92" y2="747.15" stroke="#e0e0e0" stroke-width="0.8"/>
<line x1="89" y1="743.73" x2="92" y2="743.73" stroke="#e0e0e0" stroke-width="0.8"/>
<line x1="89" y1="740.70" x2="92" y2="740.70" stroke="#e0e0e0" stroke-width="0.8"/>
<line x1="88" y1="738" x2="92" y2="738" stroke="#e0e0e0" stroke-width="1"/>
<line x1="114.54" y1="1033.5" x2="114.54" y2="1037.5" stroke="#e0e0e0" stroke-width="1"/>
<line x1="137.08" y1="1033.5" x2="137.08" y2="1037.5" stroke="#e0e0e0" stroke-width="1"/>
<line x1="159.62" y1="1033.5" x2="159.62" y2="1037.5" stroke="#e0e0e0" stroke-width="1"/>
<line x1="182.16" y1="1033.5" x2="182.16" y2="1037.5" stroke="#e0e0e0" stroke-width="1"/>
<line x1="204.69" y1="1033.5" x2="204.69" y2="1037.5" stroke="#e0e0e0" stroke-width="1"/>
<line x1="227.23" y1="1033.5" x2="227.23" y2="1037.5" stroke="#e0e0e0" stroke-width="1"/>
<line x1="249.77" y1="1033.5" x2="249.77" y2="1037.5" stroke="#e0e0e0" stroke-width="1"/>
<line x1="272.31" y1="1033.5" x2="272.31" y2="1037.5" stroke="#e0e0e0" stroke-width="1"/>
<line x1="294.85" y1="1033.5" x2="294.85" y2="1037.5" stroke="#e0e0e0" stroke-width="1"/>
<line x1="317.39" y1="1033.5" x2="317.39" y2="1037.5" stroke="#e0e0e0" stroke-width="1"/>
<line x1="339.93" y1="1033.5" x2="339.93" y2="1037.5" stroke="#e0e0e0" stroke-width="1"/>
<line x1="362.47" y1="1033.5" x2="362.47" y2="1037.5" stroke="#e0e0e0" stroke-width="1"/>
<line x1="385.01" y1="1033.5" x2="385.01" y2="1037.5" stroke="#e0e0e0" stroke-width="1"/>
<line x1="407.54" y1="1033.5" x2="407.54" y2="1037.5" stroke="#e0e0e0" stroke-width="1"/>
<line x1="430.08" y1="1033.5" x2="430.08" y2="1037.5" stroke="#e0e0e0" stroke-width="1"/>
<line x1="452.62" y1="1033.5" x2="452.62" y2="1037.5" stroke="#e0e0e0" stroke-width="1"/>
<line x1="475.16" y1="1033.5" x2="475.16" y2="1037.5" stroke="#e0e0e0" stroke-width="1"/>
<line x1="497.70" y1="1033.5" x2="497.70" y2="1037.5" stroke="#e0e0e0" stroke-width="1"/>
<text transform="translate(49.15,745.30) scale(1.0293,1.0700)" font-family='"Liberation Serif", serif' font-size="17.6" font-weight="bold" fill="#000">100</text>
<text transform="translate(59.28,801.80) scale(1.0072,1.0700)" font-family='"Liberation Serif", serif' font-size="17.6" font-weight="bold" fill="#000">10</text>
<text transform="translate(70.81,856.90) scale(0.8446,1.0700)" font-family='"Liberation Serif", serif' font-size="17.6" font-weight="bold" fill="#000">1</text>
<text transform="translate(54.53,919.40) scale(0.9502,1.0700)" font-family='"Liberation Serif", serif' font-size="17.6" font-weight="bold" fill="#000">0.1</text>
<text transform="translate(43.41,975.80) scale(0.9789,1.0700)" font-family='"Liberation Serif", serif' font-size="17.6" font-weight="bold" fill="#000">0.01</text>
<text transform="translate(33.01,1039.50) scale(0.9733,1.0700)" font-family='"Liberation Serif", serif' font-size="17.6" font-weight="bold" fill="#000">0.001</text>
<text transform="translate(19.00,944.69) rotate(-90)" font-family='"Liberation Serif", serif' font-size="19.3" font-weight="bold">p24Ag (ng/mL)</text>
<polyline points="114.54,992.50 159.62,932.00 204.69,921.20 249.77,880.20 294.85,869.60 339.93,863.60 385.01,848.80 430.08,853.80 475.16,845.00" fill="none" stroke="#333333" stroke-width="3.4" stroke-linejoin="round"/>
<polygon points="114.54,985.20 121.94,999.80 107.14,999.80" fill="#404040"/>
<polygon points="159.62,924.70 167.02,939.30 152.22,939.30" fill="#404040"/>
<polygon points="204.69,913.90 212.09,928.50 197.29,928.50" fill="#404040"/>
<polygon points="249.77,872.90 257.17,887.50 242.37,887.50" fill="#404040"/>
<polygon points="294.85,862.30 302.25,876.90 287.45,876.90" fill="#404040"/>
<polygon points="339.93,856.30 347.33,870.90 332.53,870.90" fill="#404040"/>
<polygon points="385.01,841.50 392.41,856.10 377.61,856.10" fill="#404040"/>
<polygon points="430.08,846.50 437.48,861.10 422.68,861.10" fill="#404040"/>
<polygon points="475.16,837.70 482.56,852.30 467.76,852.30" fill="#404040"/>
<polyline points="114.54,992.50 159.62,938.60 204.69,900.00 249.77,860.00 294.85,825.60 339.93,810.80 385.01,793.00 430.08,775.40 475.16,776.60" fill="none" stroke="#333333" stroke-width="3.4" stroke-linejoin="round"/>
<polygon points="114.54,985.20 121.94,999.80 107.14,999.80" fill="#333333"/>
<polygon points="114.54,988.74 119.33,998.20 109.74,998.20" fill="#fff"/>
<polygon points="159.62,931.30 167.02,945.90 152.22,945.90" fill="#333333"/>
<polygon points="159.62,934.84 164.41,944.30 154.82,944.30" fill="#fff"/>
<polygon points="204.69,892.70 212.09,907.30 197.29,907.30" fill="#333333"/>
<polygon points="204.69,896.24 209.49,905.70 199.90,905.70" fill="#fff"/>
<polygon points="249.77,852.70 257.17,867.30 242.37,867.30" fill="#333333"/>
<polygon points="249.77,856.24 254.57,865.70 244.98,865.70" fill="#fff"/>
<polygon points="294.85,818.30 302.25,832.90 287.45,832.90" fill="#333333"/>
<polygon points="294.85,821.84 299.65,831.30 290.05,831.30" fill="#fff"/>
<polygon points="339.93,803.50 347.33,818.10 332.53,818.10" fill="#333333"/>
<polygon points="339.93,807.04 344.72,816.50 335.13,816.50" fill="#fff"/>
<polygon points="385.01,785.70 392.41,800.30 377.61,800.30" fill="#333333"/>
<polygon points="385.01,789.24 389.80,798.70 380.21,798.70" fill="#fff"/>
<polygon points="430.08,768.10 437.48,782.70 422.68,782.70" fill="#333333"/>
<polygon points="430.08,771.64 434.88,781.10 425.29,781.10" fill="#fff"/>
<polygon points="475.16,769.30 482.56,783.90 467.76,783.90" fill="#333333"/>
<polygon points="475.16,772.84 479.96,782.30 470.37,782.30" fill="#fff"/>
<polyline points="114.54,991.30 159.62,927.00 204.69,878.00 249.77,868.30 294.85,858.00 339.93,840.40 385.01,836.00 430.08,832.00 475.16,839.30" fill="none" stroke="#333333" stroke-width="3.4" stroke-linejoin="round"/>
<polygon points="114.54,983.60 122.04,991.30 114.54,999.00 107.04,991.30" fill="#333333"/>
<polygon points="114.54,985.86 119.78,991.30 114.54,996.74 109.30,991.30" fill="#fff"/>
<polygon points="159.62,919.30 167.12,927.00 159.62,934.70 152.12,927.00" fill="#333333"/>
<polygon points="159.62,921.56 164.85,927.00 159.62,932.44 154.38,927.00" fill="#fff"/>
<polygon points="204.69,870.30 212.19,878.00 204.69,885.70 197.19,878.00" fill="#333333"/>
<polygon points="204.69,872.56 209.93,878.00 204.69,883.44 199.46,878.00" fill="#fff"/>
<polygon points="249.77,860.60 257.27,868.30 249.77,876.00 242.27,868.30" fill="#333333"/>
<polygon points="249.77,862.86 255.01,868.30 249.77,873.74 244.53,868.30" fill="#fff"/>
<polygon points="294.85,850.30 302.35,858.00 294.85,865.70 287.35,858.00" fill="#333333"/>
<polygon points="294.85,852.56 300.09,858.00 294.85,863.44 289.61,858.00" fill="#fff"/>
<polygon points="339.93,832.70 347.43,840.40 339.93,848.10 332.43,840.40" fill="#333333"/>
<polygon points="339.93,834.96 345.17,840.40 339.93,845.84 334.69,840.40" fill="#fff"/>
<polygon points="385.01,828.30 392.51,836.00 385.01,843.70 377.51,836.00" fill="#333333"/>
<polygon points="385.01,830.56 390.24,836.00 385.01,841.44 379.77,836.00" fill="#fff"/>
<polygon points="430.08,824.30 437.58,832.00 430.08,839.70 422.58,832.00" fill="#333333"/>
<polygon points="430.08,826.56 435.32,832.00 430.08,837.44 424.85,832.00" fill="#fff"/>
<polygon points="475.16,831.60 482.66,839.30 475.16,847.00 467.66,839.30" fill="#333333"/>
<polygon points="475.16,833.86 480.40,839.30 475.16,844.74 469.92,839.30" fill="#fff"/>
<polyline points="114.54,942.30 159.62,907.20 204.69,917.00 249.77,855.70 294.85,846.30 339.93,831.00 385.01,831.00 430.08,823.20 475.16,826.40" fill="none" stroke="#333333" stroke-width="3.4" stroke-linejoin="round"/>
<circle cx="114.54" cy="942.30" r="7.10" fill="#333333"/>
<circle cx="114.54" cy="942.30" r="5.50" fill="#fff"/>
<circle cx="159.62" cy="907.20" r="7.10" fill="#333333"/>
<circle cx="159.62" cy="907.20" r="5.50" fill="#fff"/>
<circle cx="204.69" cy="917.00" r="7.10" fill="#333333"/>
<circle cx="204.69" cy="917.00" r="5.50" fill="#fff"/>
<circle cx="249.77" cy="855.70" r="7.10" fill="#333333"/>
<circle cx="249.77" cy="855.70" r="5.50" fill="#fff"/>
<circle cx="294.85" cy="846.30" r="7.10" fill="#333333"/>
<circle cx="294.85" cy="846.30" r="5.50" fill="#fff"/>
<circle cx="339.93" cy="831.00" r="7.10" fill="#333333"/>
<circle cx="339.93" cy="831.00" r="5.50" fill="#fff"/>
<circle cx="385.01" cy="831.00" r="7.10" fill="#333333"/>
<circle cx="385.01" cy="831.00" r="5.50" fill="#fff"/>
<circle cx="430.08" cy="823.20" r="7.10" fill="#333333"/>
<circle cx="430.08" cy="823.20" r="5.50" fill="#fff"/>
<circle cx="475.16" cy="826.40" r="7.10" fill="#333333"/>
<circle cx="475.16" cy="826.40" r="5.50" fill="#fff"/>
<text transform="translate(106.15,1064.90) scale(1.0000,1.0550)" font-family='"Liberation Serif", serif' font-size="17" font-weight="bold" fill="#000">0</text>
<text transform="translate(153.21,1064.90) scale(1.0000,1.0550)" font-family='"Liberation Serif", serif' font-size="17" font-weight="bold" fill="#000">6</text>
<text transform="translate(197.00,1064.90) scale(1.0000,1.0550)" font-family='"Liberation Serif", serif' font-size="17" font-weight="bold" fill="#000">12</text>
<text transform="translate(242.52,1064.90) scale(1.0000,1.0550)" font-family='"Liberation Serif", serif' font-size="17" font-weight="bold" fill="#000">18</text>
<text transform="translate(287.73,1064.90) scale(1.0000,1.0550)" font-family='"Liberation Serif", serif' font-size="17" font-weight="bold" fill="#000">24</text>
<text transform="translate(334.16,1064.90) scale(1.0000,1.0550)" font-family='"Liberation Serif", serif' font-size="17" font-weight="bold" fill="#000">28</text>
<text transform="translate(370.54,1064.90) scale(1.0000,1.0550)" font-family='"Liberation Serif", serif' font-size="17" font-weight="bold" fill="#000">32</text>
<text transform="translate(414.52,1064.90) scale(1.0000,1.0550)" font-family='"Liberation Serif", serif' font-size="17" font-weight="bold" fill="#000">36</text>
<text transform="translate(461.01,1064.90) scale(1.0000,1.0550)" font-family='"Liberation Serif", serif' font-size="17" font-weight="bold" fill="#000">40</text>
<text transform="translate(205.74,1104.20)" font-family='"Liberation Serif", serif' font-size="19.1" font-weight="bold" fill="#000">days after infection</text>
<line x1="282.8" y1="916.3" x2="316.8" y2="916.3" stroke="#333333" stroke-width="3" stroke-linecap="round"/>
<polygon points="299.90,911.20 305.05,921.40 294.75,921.40" fill="#404040"/>
<line x1="282.8" y1="943" x2="316.8" y2="943" stroke="#333333" stroke-width="3" stroke-linecap="round"/>
<polygon points="299.90,937.70 305.05,948.30 294.75,948.30" fill="#333333"/>
<polygon points="299.90,940.90 302.81,946.90 296.99,946.90" fill="#fff"/>
<line x1="282.8" y1="969.2" x2="316.8" y2="969.2" stroke="#333333" stroke-width="3" stroke-linecap="round"/>
<polygon points="299.60,963.90 304.00,969.20 299.60,974.50 295.20,969.20" fill="#333333"/>
<polygon points="299.60,965.60 302.30,969.20 299.60,972.80 296.90,969.20" fill="#fff"/>
<line x1="282.8" y1="995.6" x2="316.8" y2="995.6" stroke="#333333" stroke-width="3" stroke-linecap="round"/>
<circle cx="299.20" cy="995.60" r="4.60" fill="#333333"/>
<circle cx="299.20" cy="995.60" r="3.30" fill="#fff"/>
<text transform="translate(328.17,921.40) scale(1.0109,1.0500)" font-family='"Liberation Serif", serif' font-size="17.6" font-weight="normal" fill="#000" stroke="#000" stroke-width="0.2">BaL</text>
<text transform="translate(327.95,947.10) scale(1.0344,1.0500)" font-family='"Liberation Serif", serif' font-size="17.6" font-weight="normal" fill="#000" stroke="#000" stroke-width="0.2">BaL + α-MIP-1α</text>
<text transform="translate(326.16,974.20) scale(1.0252,1.0500)" font-family='"Liberation Serif", serif' font-size="17.6" font-weight="normal" fill="#000" stroke="#000" stroke-width="0.2">BaL + α-CCL5</text>
<text transform="translate(326.16,1001.70) scale(1.0209,1.0500)" font-family='"Liberation Serif", serif' font-size="17.6" font-weight="normal" fill="#000" stroke="#000" stroke-width="0.2">BaL + α-CCL4</text>
</svg>
</body></html>
